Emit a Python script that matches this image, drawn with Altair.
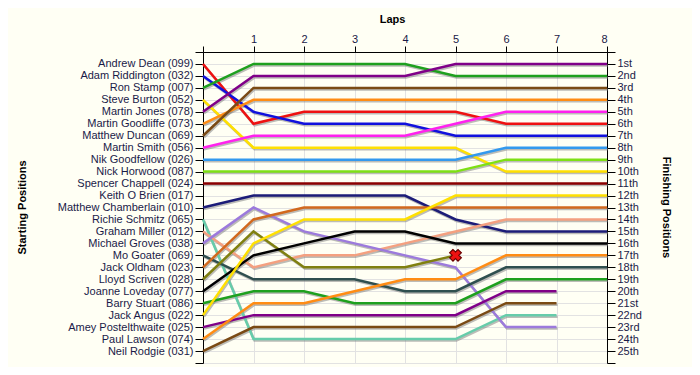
import json
import altair as alt
import pandas as pd

laps = list(range(9))

drivers = [
    "Andrew Dean (099)", "Adam Riddington (032)", "Ron Stamp (007)", "Steve Burton (052)",
    "Martin Jones (078)", "Martin Goodliffe (073)", "Matthew Duncan (069)", "Martin Smith (056)",
    "Nik Goodfellow (026)", "Nick Horwood (087)", "Spencer Chappell (024)", "Keith O Brien (017)",
    "Matthew Chamberlain (010)", "Richie Schmitz (065)", "Graham Miller (012)", "Michael Groves (038)",
    "Mo Goater (069)", "Jack Oldham (023)", "Lloyd Scriven (028)", "Joanne Loveday (077)",
    "Barry Stuart (086)", "Jack Angus (022)", "Amey Postelthwaite (025)", "Paul Lawson (074)",
    "Neil Rodgie (031)",
]

colors = [
    "#ee1111", "#1111dd", "#1ea01e", "#ffe000",
    "#800088", "#ff8c14", "#7a4a14", "#ff22ee",
    "#3399ee", "#7ee014", "#8b0000", "#444444",
    "#1c1c78", "#66ccaa", "#f4a080", "#9c7adc",
    "#2f4f4f", "#d2691e", "#808010", "#000000",
    "#1ea01e", "#ffe000", "#800088", "#ff8c14",
    "#7a4a14",
]

N = None
positions = [
    [1, 6, 5, 5, 5, 5, 6, 6, 6],
    [2, 5, 6, 6, 6, 7, 7, 7, 7],
    [3, 1, 1, 1, 1, 2, 2, 2, 2],
    [4, 8, 8, 8, 8, 8, 10, 10, 10],
    [5, 2, 2, 2, 2, 1, 1, 1, 1],
    [6, 4, 4, 4, 4, 4, 4, 4, 4],
    [7, 3, 3, 3, 3, 3, 3, 3, 3],
    [8, 7, 7, 7, 7, 6, 5, 5, 5],
    [9, 9, 9, 9, 9, 9, 8, 8, 8],
    [10, 10, 10, 10, 10, 10, 9, 9, 9],
    [11, 11, 11, 11, 11, 11, 11, 11, 11],
    [N, N, N, N, N, N, N, N, N],
    [13, 12, 12, 12, 12, 14, 15, 15, 15],
    [14, 24, 24, 24, 24, 24, 22, 22, N],
    [15, 18, 17, 17, 16, 15, 14, 14, 14],
    [16, 13, 15, 16, 17, 18, 23, 23, N],
    [17, 19, 19, 19, 20, 20, 18, 18, 18],
    [18, 14, 13, 13, 13, 13, 13, 13, 13],
    [19, 15, 18, 18, 18, 17, N, N, N],
    [20, 17, 16, 15, 15, 16, 16, 16, 16],
    [21, 20, 20, 21, 21, 21, 19, 19, 19],
    [22, 16, 14, 14, 14, 12, 12, 12, 12],
    [23, 22, 22, 22, 22, 22, 20, 20, N],
    [24, 21, 21, 20, 19, 19, 17, 17, 17],
    [25, 23, 23, 23, 23, 23, 21, 21, N],
]

finish_labels = [
    "1st", "2nd", "3rd", "4th", "5th", "6th", "7th", "8th", "9th", "10th",
    "11th", "12th", "13th", "14th", "15th", "16th", "17th", "18th", "19th", "20th",
    "21st", "22nd", "23rd", "24th", "25th",
]

retired_driver = ["Lloyd Scriven (028)"]
retired_lap = [5]
retired_pos = [17]

rows = []
for i, (d, pos) in enumerate(zip(drivers, positions)):
    for lap, p in zip(laps, pos):
        if p is not None:
            rows.append({"driver": d, "lap": lap, "pos": p, "idx": i})
df = pd.DataFrame(rows)
ret = pd.DataFrame({"driver": retired_driver, "lap": retired_lap, "pos": retired_pos})

left_expr = json.dumps([""] + drivers + [""]) + "[datum.value]"
right_expr = json.dumps([""] + finish_labels + [""]) + "[datum.value]"

FONT = "Liberation Sans"
LABEL_COLOR = "#1a1a48"

yscale = alt.Scale(domain=[0, 26], reverse=True, nice=False, zero=False)

x_enc = alt.X(
    "lap:Q",
    scale=alt.Scale(domain=[0, 8], nice=False, zero=False),
    axis=alt.Axis(
        orient="top", values=laps, title="Laps", grid=True, gridColor="#e2e2e2",
        labelExpr="datum.value == 0 ? '' : datum.label",
        tickSize=6, labelPadding=2, tickColor="#000000", domainColor="#000000",
        labelFont=FONT, labelFontSize=11, labelColor=LABEL_COLOR,
        titleFont=FONT, titleFontSize=11, titleFontWeight="bold", titleColor="#000000",
        titleX=189, titleY=-30, titleBaseline="alphabetic", titleAlign="center",
    ),
)

color_enc = alt.Color(
    "driver:N", scale=alt.Scale(domain=drivers, range=colors), legend=None
)

shadow = alt.Chart(df).mark_line(
    color="#7a7a7a", opacity=0.5, strokeWidth=2.5, xOffset=1, yOffset=1.5
).encode(
    x=x_enc,
    y=alt.Y(
        "pos:Q", scale=yscale,
        axis=alt.Axis(
            orient="right", values=list(range(27)), labelExpr=right_expr, grid=False,
            tickSize=8, labelPadding=2, tickColor="#000000", domainColor="#000000",
            labelFont=FONT, labelFontSize=11, labelColor=LABEL_COLOR,
            title="Finishing Positions", titleFont=FONT, titleFontSize=11,
            titleFontWeight="bold", titleColor="#000000", titleAngle=90,
            titleX=58, titleY=155, titleBaseline="middle", titleAlign="center",
        ),
    ),
    detail="driver:N",
    order="lap:Q",
)

lines = alt.Chart(df).mark_line(strokeWidth=2.5).encode(
    x=x_enc,
    y=alt.Y(
        "pos:Q", scale=yscale,
        axis=alt.Axis(
            orient="left", values=list(range(27)), labelExpr=left_expr, grid=True,
            gridColor="#e2e2e2",
            tickSize=8, labelPadding=2, tickColor="#000000", domainColor="#000000",
            labelFont=FONT, labelFontSize=11, labelColor=LABEL_COLOR,
            title="Starting Positions", titleFont=FONT, titleFontSize=11,
            titleFontWeight="bold", titleColor="#000000", titleAngle=-90,
            titleX=-181, titleY=155, titleBaseline="middle", titleAlign="center",
        ),
    ),
    color=color_enc,
    order="lap:Q",
)

xmark = alt.Chart(ret).mark_point(
    shape="cross", angle=45, filled=True, color="#ee1111", stroke="#6a0000",
    strokeWidth=1.2, size=140, opacity=1,
).encode(
    x=x_enc,
    y=alt.Y("pos:Q", scale=yscale, axis=None),
)

chart = alt.layer(shadow, lines, xmark).resolve_axis(y="independent").properties(
    width=404, height=311,
    autosize=alt.AutoSizeParams(type="none"),
    padding={"left": 195, "top": 44, "right": 85, "bottom": 4},
    background="#fffff4",
).configure_view(stroke=None)

chart.save("out.html", embed_options={"renderer": "svg", "actions": False})
